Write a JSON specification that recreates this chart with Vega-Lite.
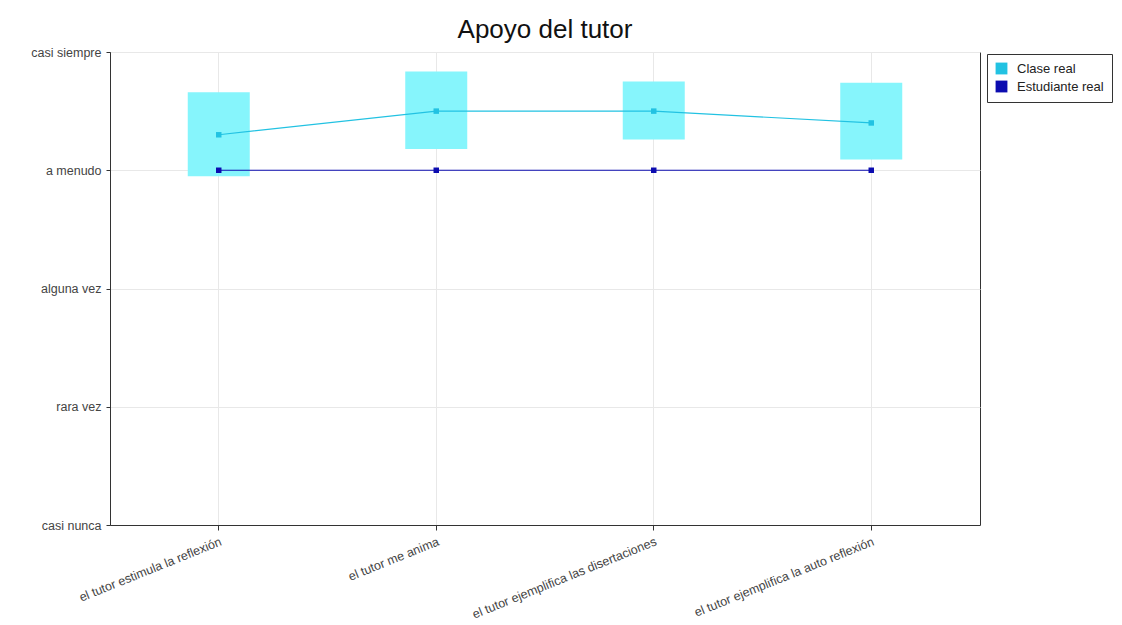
{
  "$schema": "https://vega.github.io/schema/vega-lite/v6.json",
  "width": 870,
  "height": 473,
  "autosize": {"type": "none"},
  "padding": {"left": 110, "top": 52, "right": 142, "bottom": 100},
  "background": "white",
  "config": {
    "font": "Liberation Sans",
    "view": {"stroke": "#333333", "strokeWidth": 1}
  },
  "title": {"text": "Apoyo del tutor", "fontSize": 26, "fontWeight": "normal", "font": "Liberation Sans", "color": "#111111", "offset": 3, "anchor": "middle"},
  "data": {
    "values": [
      {"pregunta": "el tutor estimula la reflexión", "serie": "Clase real", "valor": 4.30, "bajo": 3.95, "alto": 4.66},
      {"pregunta": "el tutor me anima", "serie": "Clase real", "valor": 4.50, "bajo": 4.18, "alto": 4.835},
      {"pregunta": "el tutor ejemplifica las disertaciones", "serie": "Clase real", "valor": 4.50, "bajo": 4.26, "alto": 4.75},
      {"pregunta": "el tutor ejemplifica la auto reflexión", "serie": "Clase real", "valor": 4.40, "bajo": 4.09, "alto": 4.74},
      {"pregunta": "el tutor estimula la reflexión", "serie": "Estudiante real", "valor": 4.0},
      {"pregunta": "el tutor me anima", "serie": "Estudiante real", "valor": 4.0},
      {"pregunta": "el tutor ejemplifica las disertaciones", "serie": "Estudiante real", "valor": 4.0},
      {"pregunta": "el tutor ejemplifica la auto reflexión", "serie": "Estudiante real", "valor": 4.0}
    ]
  },
  "encoding": {
    "x": {
      "field": "pregunta", "type": "nominal", "sort": null,
      "scale": {"paddingInner": 0, "paddingOuter": 0},
      "axis": {
        "title": null, "labelAngle": -22, "labelAlign": "right", "labelBaseline": "top",
        "labelFontSize": 12.5, "labelColor": "#444444", "labelPadding": 5, "labelLimit": 300,
        "bandPosition": 0.5, "tickColor": "#333333", "tickSize": 5, "domainColor": "#333333",
        "gridColor": "#e8e8e8", "grid": true
      }
    }
  },
  "layer": [
    {
      "transform": [{"filter": "datum.serie == 'Clase real'"}],
      "mark": {"type": "bar", "size": 62, "color": "#86f5fc", "opacity": 1},
      "encoding": {
        "y": {"field": "bajo", "type": "quantitative"},
        "y2": {"field": "alto"}
      }
    },
    {
      "mark": {"type": "line", "strokeWidth": 1.2},
      "encoding": {
        "y": {
          "field": "valor", "type": "quantitative",
          "scale": {"domain": [1, 5], "nice": false, "zero": false},
          "axis": {
            "title": null, "values": [1, 2, 3, 4, 5],
            "labelExpr": "datum.value == 1 ? 'casi nunca' : datum.value == 2 ? 'rara vez' : datum.value == 3 ? 'alguna vez' : datum.value == 4 ? 'a menudo' : 'casi siempre'",
            "labelFontSize": 12.5, "labelColor": "#444444", "labelPadding": 5,
            "tickColor": "#333333", "tickSize": 4, "domainColor": "#333333",
            "gridColor": "#e8e8e8", "grid": true
          }
        },
        "color": {
          "field": "serie", "type": "nominal",
          "scale": {"domain": ["Clase real", "Estudiante real"], "range": ["#22c2e2", "#0c0cb0"]},
          "legend": {
            "title": null, "orient": "none", "legendX": 877, "legendY": 2,
            "strokeColor": "#333333", "padding": 8, "symbolType": "square", "symbolSize": 140,
            "labelFontSize": 13, "labelColor": "#222222", "rowPadding": 4, "symbolStrokeWidth": 0,
            "fillColor": "white", "labelOffset": 9
          }
        }
      }
    },
    {
      "mark": {"type": "point", "shape": "square", "filled": true, "size": 30, "opacity": 1},
      "encoding": {
        "y": {"field": "valor", "type": "quantitative"},
        "color": {"field": "serie", "type": "nominal"}
      }
    }
  ]
}
